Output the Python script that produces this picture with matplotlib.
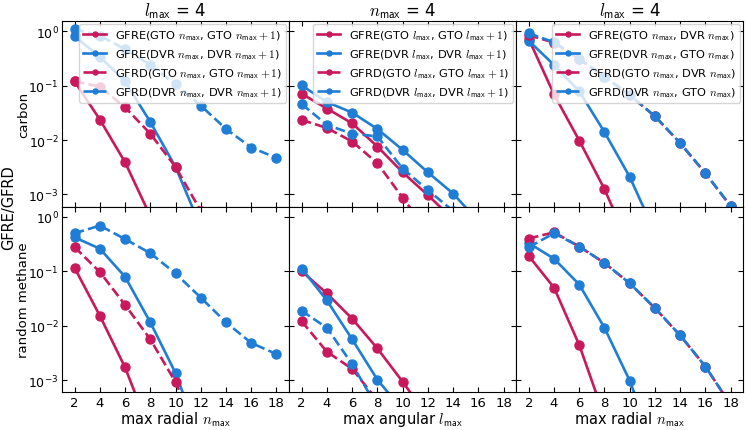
import numpy as np
import matplotlib
matplotlib.use("Agg")
import matplotlib.pyplot as plt
from matplotlib.ticker import NullLocator, LogLocator

plt.rcParams['mathtext.fontset'] = 'cm'
plt.rcParams['font.family'] = ['DejaVu Sans']

# --- datos ---
n_radial = [2, 4, 6, 8, 10, 12, 14, 16, 18]
l_angular = [2, 4, 6, 8, 10, 12, 14, 16, 18]

# carbon, l_max = 4, variando n_max
c_rad_gfre_gto = [0.12, 0.0238, 0.0039, 4e-4]
c_rad_gfre_dvr = [0.81, 0.34, 0.12, 0.0215, 0.0032, 2.5e-4]
c_rad_gfrd_gto = [0.12, 0.096, 0.040, 0.0131, 0.0032, 5e-4]
c_rad_gfrd_dvr = [1.1, 0.83, 0.47, 0.24, 0.106, 0.043, 0.016, 0.0073, 0.0047]

# carbon, n_max = 4, variando l_max
c_ang_gfre_gto = [0.071, 0.038, 0.0203, 0.0076, 0.00255, 0.00097, 3.5e-4]
c_ang_gfre_dvr = [0.101, 0.050, 0.032, 0.016, 0.0066, 0.00255, 0.00104, 3.2e-4]
c_ang_gfrd_gto = [0.0235, 0.0167, 0.0094, 0.00375, 0.00087, 2.1e-4]
c_ang_gfrd_dvr = [0.046, 0.019, 0.0131, 0.0117, 0.0030, 0.0012, 5e-4]

# carbon, l_max = 4, GTO vs DVR
c_x_gfre_gto = [0.72, 0.069, 0.0098, 0.00125, 1.1e-4]
c_x_gfre_dvr = [0.67, 0.24, 0.079, 0.014, 0.0021, 2e-4]
c_x_gfrd_gto = [0.85, 0.62, 0.31, 0.147, 0.067, 0.0274, 0.0088, 0.00245, 0.00061]
c_x_gfrd_dvr = [0.92, 0.63, 0.31, 0.147, 0.067, 0.0274, 0.0088, 0.00245, 0.00061]

# random methane, l_max = 4, variando n_max
m_rad_gfre_gto = [0.115, 0.0152, 0.0017, 1.1e-4]
m_rad_gfre_dvr = [0.42, 0.26, 0.079, 0.0115, 0.00134, 7.6e-5]
m_rad_gfrd_gto = [0.277, 0.097, 0.024, 0.0056, 0.00091, 8.5e-5]
m_rad_gfrd_dvr = [0.50, 0.69, 0.39, 0.215, 0.091, 0.0327, 0.0115, 0.0048, 0.0030]

# random methane, n_max = 4, variando l_max
m_ang_gfre_gto = [0.10, 0.039, 0.0134, 0.0038, 0.00093, 2.1e-4]
m_ang_gfre_dvr = [0.112, 0.029, 0.0056, 0.00101, 2.8e-4]
m_ang_gfrd_gto = [0.012, 0.0033, 0.0016, 4.2e-4]
m_ang_gfrd_dvr = [0.0187, 0.0091, 0.00195, 3.1e-4]

# random methane, l_max = 4, GTO vs DVR
m_x_gfre_gto = [0.19, 0.050, 0.0044, 2.1e-4]
m_x_gfre_dvr = [0.33, 0.17, 0.057, 0.0091, 0.00097, 5.4e-5]
m_x_gfrd_gto = [0.40, 0.52, 0.285, 0.142, 0.060, 0.021, 0.0066, 0.00177, 3.5e-4]
m_x_gfrd_dvr = [0.277, 0.50, 0.285, 0.142, 0.060, 0.021, 0.0066, 0.00177, 3.5e-4]

rojo = '#C8195C'
azul = '#1F7DD6'

nm = r'$n_{\mathsf{max}}$'
lm = r'$l_{\mathsf{max}}$'
nm1 = r'$n_{\mathsf{max}} + 1$'
lm1 = r'$l_{\mathsf{max}} + 1$'

labels_rad = [f'GFRE(GTO {nm}, GTO {nm1})',
              f'GFRE(DVR {nm}, DVR {nm1})',
              f'GFRD(GTO {nm}, GTO {nm1})',
              f'GFRD(DVR {nm}, DVR {nm1})']
labels_ang = [f'GFRE(GTO {lm}, GTO {lm1})',
              f'GFRE(DVR {lm}, DVR {lm1})',
              f'GFRD(GTO {lm}, GTO {lm1})',
              f'GFRD(DVR {lm}, DVR {lm1})']
labels_x = [f'GFRE(GTO {nm}, DVR {nm})',
            f'GFRE(DVR {nm}, GTO {nm})',
            f'GFRD(GTO {nm}, DVR {nm})',
            f'GFRD(DVR {nm}, GTO {nm})']

paneles = [
    [(n_radial, [c_rad_gfre_gto, c_rad_gfre_dvr, c_rad_gfrd_gto, c_rad_gfrd_dvr], labels_rad),
     (l_angular, [c_ang_gfre_gto, c_ang_gfre_dvr, c_ang_gfrd_gto, c_ang_gfrd_dvr], labels_ang),
     (n_radial, [c_x_gfre_gto, c_x_gfre_dvr, c_x_gfrd_gto, c_x_gfrd_dvr], labels_x)],
    [(n_radial, [m_rad_gfre_gto, m_rad_gfre_dvr, m_rad_gfrd_gto, m_rad_gfrd_dvr], labels_rad),
     (l_angular, [m_ang_gfre_gto, m_ang_gfre_dvr, m_ang_gfrd_gto, m_ang_gfrd_dvr], labels_ang),
     (n_radial, [m_x_gfre_gto, m_x_gfre_dvr, m_x_gfrd_gto, m_x_gfrd_dvr], labels_x)],
]
estilos = [(rojo, '-'), (azul, '-'), (rojo, '--'), (azul, '--')]

fig, axes = plt.subplots(2, 3, figsize=(7.47, 4.31), dpi=100, sharey=True)
izq, abajo, arriba = 0.083, 0.088, 0.949
fig.subplots_adjust(left=izq, right=0.995, bottom=abajo, top=arriba,
                    wspace=0, hspace=0)

for i in range(2):
    for j in range(3):
        ax = axes[i, j]
        xs, series, labs = paneles[i][j]
        for ys, (col, ls), lab in zip(series, estilos, labs):
            ax.plot(xs[:len(ys)], ys, color=col, ls=ls, lw=1.9, marker='o',
                    markersize=6.5, label=lab)
        ax.set_yscale('log')
        ax.set_ylim(6e-4, 1.55)
        ax.set_xlim(1, 19)
        ax.set_xticks(range(2, 19, 2))
        ax.yaxis.set_major_locator(LogLocator(base=10, numticks=10))
        ax.yaxis.set_minor_locator(NullLocator())
        ax.tick_params(direction='in', top=True, right=True, labelsize=9.5,
                       length=3.5, pad=3)
        ax.tick_params(axis='y', labelsize=9, pad=2.5)
        if i == 0:
            ax.tick_params(labelbottom=False)
            ax.legend(loc='upper right', fontsize=8.2, markerscale=0.55,
                      borderaxespad=0.25, handlelength=2.0, labelspacing=0.45,
                      borderpad=0.35)
        if j > 0:
            ax.tick_params(labelleft=False)

axes[0, 0].set_title(r'$l_{\mathsf{max}}$ = 4', fontsize=12, pad=4)
axes[0, 1].set_title(r'$n_{\mathsf{max}}$ = 4', fontsize=12, pad=4)
axes[0, 2].set_title(r'$l_{\mathsf{max}}$ = 4', fontsize=12, pad=4)
axes[1, 0].set_xlabel('max radial ' + nm, fontsize=10.5, labelpad=0)
axes[1, 1].set_xlabel('max angular ' + lm, fontsize=10.5, labelpad=0)
axes[1, 2].set_xlabel('max radial ' + nm, fontsize=10.5, labelpad=0)
axes[0, 0].set_ylabel('carbon', fontsize=9.5)
axes[1, 0].set_ylabel('random methane', fontsize=9.5)
for ax in axes[:, 0]:
    ax.yaxis.set_label_coords(-0.14, 0.5)
fig.supylabel('GFRE/GFRD', x=0.002, y=(abajo + arriba) / 2, fontsize=10.5)

fig.savefig('out.png', dpi=100)
